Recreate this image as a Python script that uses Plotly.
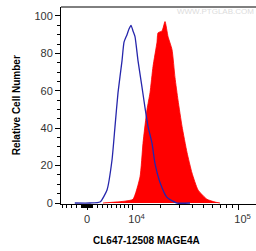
import numpy as np
import plotly.graph_objects as go

# Display transform scale (biexponential-like, asinh)
SCALE_M = 9700.0

# Control (blue outline) histogram: fluorescence intensity vs relative count
blue_intensity = [-2400, 580, 2560, 4000, 5070, 5740, 6430, 7380, 7880, 8640, 9170,
                  9720, 10270, 10850, 11750, 13000, 14000, 15060, 16540, 17730,
                  19850, 23160, 28690, 37660]
blue_count = [0, 0, 0.5, 7, 23, 41, 59, 76, 86, 90, 93, 95, 92, 89, 76, 62, 51,
              41, 32, 21, 11, 3, 0, 0]

# MAGE4A stained (red filled) histogram
red_intensity = [3170, 5740, 8130, 10270, 12370, 13330, 14700, 15790, 16930, 18550,
                 18980, 20750, 22170, 23670, 25800, 27500, 29310, 31880, 35390,
                 39250, 44410, 53380, 62820, 69530]
red_count = [0, 0.5, 1, 2, 14, 32, 50, 59, 73, 86, 91, 92, 97, 89, 82, 67, 55, 41,
             27, 16, 7, 2, 0.5, 0]

major_tick_values = [0, 1e4, 1e5]
major_tick_labels = ["0", "\u00a0\u00a0\u00a010<sup>4</sup>", "\u00a0\u00a0\u00a010<sup>5</sup>"]
minor_tick_values = ([-s * k for s in (100, 1000) for k in range(1, 10) if s * k <= 5000]
                     + [100 * k for k in range(1, 10)]
                     + [1000 * k for k in range(1, 10)]
                     + [10000 * k for k in range(2, 10)])

y_ticks = [0, 20, 40, 60, 80, 100]


def tr(v):
    return np.arcsinh(np.asarray(v, dtype=float) / SCALE_M)


fig = go.Figure()
fig.add_trace(go.Scatter(
    x=tr(red_intensity), y=red_count, mode="lines",
    line=dict(color="#ff0000", width=0.8, shape="spline", smoothing=0.5),
    fill="tozeroy", fillcolor="#ff0000",
    hoverinfo="skip", showlegend=False))
fig.add_trace(go.Scatter(
    x=tr(blue_intensity), y=blue_count, mode="lines",
    line=dict(color="#2626ac", width=1.3, shape="spline", smoothing=0.5),
    hoverinfo="skip", showlegend=False))

font_family = "Liberation Sans, Arial, sans-serif"

fig.update_layout(
    width=256, height=251,
    margin=dict(l=61, r=0, t=7, b=47),
    paper_bgcolor="white", plot_bgcolor="white",
    font=dict(family=font_family, size=11, color="#333333"),
    xaxis=dict(
        range=[-0.5215, 3.389], showgrid=False, zeroline=False,
        showline=True, linecolor="black", linewidth=1,
        tickmode="array", tickvals=list(tr(major_tick_values)), ticktext=major_tick_labels,
        ticks="outside", ticklen=5, tickwidth=1, tickcolor="black",
        tickfont=dict(size=11, color="#333333"),
        minor=dict(tickmode="array", tickvals=list(tr(minor_tick_values)),
                   ticks="outside", ticklen=3, tickwidth=1, tickcolor="black",
                   showgrid=False),
        fixedrange=True,
    ),
    yaxis=dict(
        range=[-0.53, 104.8], showgrid=False, zeroline=False,
        showline=True, linecolor="black", linewidth=1,
        tickmode="array", tickvals=y_ticks,
        ticks="outside", ticklen=5, tickwidth=1, tickcolor="black",
        tickfont=dict(size=11, color="#333333"),
        minor=dict(dtick=5, ticks="outside", ticklen=3, tickwidth=1,
                   tickcolor="black", showgrid=False),
        fixedrange=True,
    ),
    shapes=[dict(type="line", xref="paper", yref="paper", x0=0, x1=1, y0=1, y1=1,
                 line=dict(color="black", width=1))],
    annotations=[
        dict(text="<b>CL647-12508 MAGE4A</b>", xref="paper", yref="paper",
             x=0.441, y=-0.183, xanchor="center", yanchor="middle", showarrow=False,
             font=dict(family=font_family, size=10, color="black")),
        dict(text="<b>Relative Cell Number</b>", xref="paper", yref="paper",
             x=-0.227, y=0.5, xanchor="center", yanchor="middle", showarrow=False,
             textangle=-90, font=dict(family=font_family, size=10, color="black")),
        dict(text="WWW.PTGLAB.COM", xref="paper", yref="paper",
             x=1.0, y=0.975, xanchor="right", yanchor="middle", showarrow=False,
             font=dict(family=font_family, size=8, color="#dcdcdc")),
    ],
)

fig.write_html("out.html", config={"displayModeBar": False},
               post_script="document.body.style.margin='0';document.body.style.overflow='hidden';")
